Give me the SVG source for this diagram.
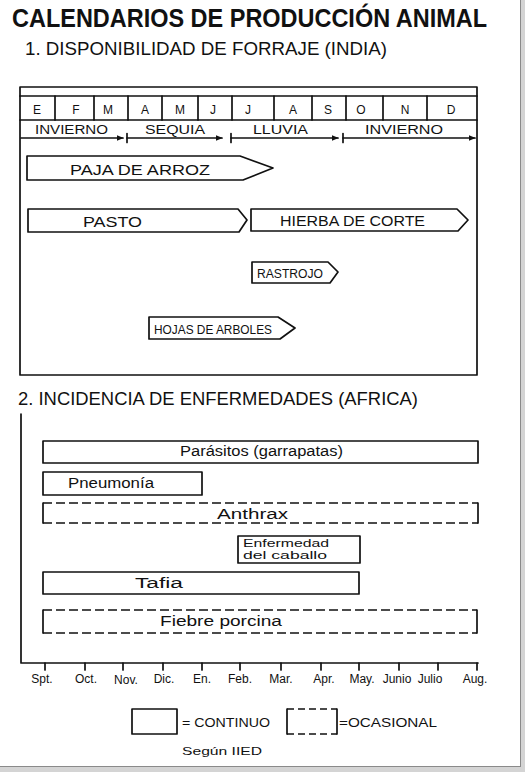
<svg xmlns="http://www.w3.org/2000/svg" width="525" height="772" viewBox="0 0 525 772">
<style>
  .ln { stroke:#111; stroke-width:1.7; fill:none; stroke-linejoin:round; stroke-linecap:round; }
  .bar { stroke:#111; stroke-width:1.7; fill:#fff; stroke-linejoin:round; }
  .dash { stroke:#111; stroke-width:1.7; fill:none; stroke-dasharray:9 4; }
  text { font-family:"Liberation Sans","DejaVu Sans",sans-serif; fill:#111; }
  .h1 { font-size:25px; font-weight:bold; }
  .h2 { font-size:18px; }
  .m { font-size:12px; text-anchor:middle; }
  .s { font-size:12px; }
  .f { font-size:14px; }
  .fs { font-size:12px; }
  .d { font-size:14px; }
  .ds { font-size:11px; }
  .dxs { font-size:10px; }
  .ax { font-size:12px; text-anchor:middle; }
</style>
<defs>
  <marker id="ah" viewBox="0 0 10 10" refX="9" refY="5" markerWidth="7" markerHeight="7" markerUnits="userSpaceOnUse" orient="auto">
    <path d="M0,1 L10,5 L0,9 Z" fill="#111"/>
  </marker>
</defs>
<rect x="0" y="0" width="525" height="772" fill="#fff"/>
<!-- page shadow -->
<g id="page-edge">
  <rect x="521" y="0" width="4" height="772" fill="#d4d4d4"/>
  <rect x="0" y="767" width="525" height="5" fill="#d4d4d4"/>
  <line x1="520.5" y1="0" x2="520.5" y2="767" stroke="#8a8a8a" stroke-width="1"/>
  <line x1="0" y1="766.5" x2="521" y2="766.5" stroke="#8a8a8a" stroke-width="1"/>
</g>

<g id="title">
  <text class="h1" x="12" y="27" textLength="475" lengthAdjust="spacingAndGlyphs">CALENDARIOS DE PRODUCCIÓN ANIMAL</text>
  <text class="h2" x="25" y="55" textLength="362" lengthAdjust="spacingAndGlyphs">1. DISPONIBILIDAD DE FORRAJE (INDIA)</text>
</g>

<!-- Section 1 -->
<g id="forage-frame">
  <rect class="ln" x="20" y="87" width="457" height="288"/>
  <line class="ln" x1="20" y1="96" x2="477" y2="96"/>
  <line class="ln" x1="20" y1="120" x2="477" y2="120"/>
</g>
<g id="months">
  <g class="ln">
    <line x1="55" y1="96" x2="55" y2="120"/>
    <line x1="94" y1="96" x2="94" y2="120"/>
    <line x1="128" y1="96" x2="128" y2="120"/>
    <line x1="162" y1="96" x2="162" y2="120"/>
    <line x1="198" y1="96" x2="198" y2="120"/>
    <line x1="232" y1="96" x2="232" y2="120"/>
    <line x1="274" y1="96" x2="274" y2="120"/>
    <line x1="312" y1="96" x2="312" y2="120"/>
    <line x1="346" y1="96" x2="346" y2="120"/>
    <line x1="383" y1="96" x2="383" y2="120"/>
    <line x1="427" y1="96" x2="427" y2="120"/>
  </g>
  <text class="m" x="37" y="114">E</text>
  <text class="m" x="76" y="114">F</text>
  <text class="m" x="108" y="114">M</text>
  <text class="m" x="145" y="114">A</text>
  <text class="m" x="180" y="114">M</text>
  <text class="m" x="213" y="114">J</text>
  <text class="m" x="248" y="114">J</text>
  <text class="m" x="293" y="114">A</text>
  <text class="m" x="328" y="114">S</text>
  <text class="m" x="361" y="114">O</text>
  <text class="m" x="405" y="114">N</text>
  <text class="m" x="451" y="114">D</text>
</g>
<g id="seasons">
  <text class="s" x="35" y="134" textLength="73" lengthAdjust="spacingAndGlyphs">INVIERNO</text>
  <text class="s" x="145" y="134" textLength="60" lengthAdjust="spacingAndGlyphs">SEQUIA</text>
  <text class="s" x="253" y="134" textLength="55" lengthAdjust="spacingAndGlyphs">LLUVIA</text>
  <text class="s" x="365" y="134" textLength="78" lengthAdjust="spacingAndGlyphs">INVIERNO</text>
</g>
<g id="connectors">
  <line class="ln" x1="21" y1="138" x2="123" y2="138" marker-end="url(#ah)"/>
  <line class="ln" x1="127" y1="133.5" x2="127" y2="142.5"/>
  <line class="ln" x1="127" y1="138" x2="222" y2="138" marker-end="url(#ah)"/>
  <line class="ln" x1="231" y1="133.5" x2="231" y2="142.5"/>
  <line class="ln" x1="231" y1="138" x2="338" y2="138" marker-end="url(#ah)"/>
  <line class="ln" x1="343" y1="133.5" x2="343" y2="142.5"/>
  <line class="ln" x1="343" y1="138" x2="475" y2="138" marker-end="url(#ah)"/>
</g>

<g id="paja-de-arroz">
  <polygon class="bar" points="27,156 240,156 273,168 243,180 27,180"/>
  <text class="f" x="70" y="175" textLength="140" lengthAdjust="spacingAndGlyphs">PAJA DE ARROZ</text>
</g>
<g id="pasto">
  <polygon class="bar" points="28,209 238,209 247,220 239,232 28,232"/>
  <text class="f" x="83" y="227" textLength="59" lengthAdjust="spacingAndGlyphs">PASTO</text>
</g>
<g id="hierba-de-corte">
  <polygon class="bar" points="251,209 457,209 468,220 458,231 251,231"/>
  <text class="f" x="280" y="226" textLength="145" lengthAdjust="spacingAndGlyphs">HIERBA DE CORTE</text>
</g>
<g id="rastrojo">
  <polygon class="bar" points="252,262 328,262 338,272 330,283 252,283"/>
  <text class="fs" x="257" y="278" textLength="66" lengthAdjust="spacingAndGlyphs">RASTROJO</text>
</g>
<g id="hojas-de-arboles">
  <polygon class="bar" points="149,317 278,317 295,328 280,339 149,339"/>
  <text class="fs" x="154" y="334" textLength="118" lengthAdjust="spacingAndGlyphs">HOJAS DE ARBOLES</text>
</g>

<!-- Section 2 -->
<g id="section2-title">
  <text class="h2" x="18" y="405" textLength="400" lengthAdjust="spacingAndGlyphs">2. INCIDENCIA DE ENFERMEDADES (AFRICA)</text>
</g>
<g id="disease-axis">
  <polyline class="ln" points="21,414 21,663 478,663"/>
  <g class="ln">
    <line x1="45" y1="663" x2="45" y2="670"/>
    <line x1="85" y1="663" x2="85" y2="670"/>
    <line x1="123" y1="663" x2="123" y2="670"/>
    <line x1="163" y1="663" x2="163" y2="670"/>
    <line x1="202" y1="663" x2="202" y2="670"/>
    <line x1="240" y1="663" x2="240" y2="670"/>
    <line x1="281" y1="663" x2="281" y2="670"/>
    <line x1="321" y1="663" x2="321" y2="670"/>
    <line x1="359" y1="663" x2="359" y2="670"/>
    <line x1="399" y1="663" x2="399" y2="670"/>
    <line x1="438" y1="663" x2="438" y2="670"/>
    <line x1="477" y1="663" x2="477" y2="670"/>
  </g>
  <text class="ax" x="42" y="683">Spt.</text>
  <text class="ax" x="86" y="683">Oct.</text>
  <text class="ax" x="126" y="684">Nov.</text>
  <text class="ax" x="164" y="683">Dic.</text>
  <text class="ax" x="202" y="683">En.</text>
  <text class="ax" x="240" y="683">Feb.</text>
  <text class="ax" x="281" y="683">Mar.</text>
  <text class="ax" x="324" y="683">Apr.</text>
  <text class="ax" x="362" y="683">May.</text>
  <text class="ax" x="397" y="683">Junio</text>
  <text class="ax" x="430" y="683">Julio</text>
  <text class="ax" x="475" y="683">Aug.</text>
</g>

<g id="parasitos">
  <rect class="bar" x="43" y="441" width="435" height="22"/>
  <text class="d" x="180" y="456" textLength="163" lengthAdjust="spacingAndGlyphs">Parásitos (garrapatas)</text>
</g>
<g id="pneumonia">
  <rect class="bar" x="43" y="472" width="159" height="23"/>
  <text class="d" x="68" y="488" textLength="86" lengthAdjust="spacingAndGlyphs">Pneumonía</text>
</g>
<g id="anthrax">
  <line class="ln" x1="43" y1="503" x2="43" y2="523"/>
  <line class="ln" x1="478" y1="503" x2="478" y2="523"/>
  <line class="dash" x1="43" y1="503" x2="478" y2="503"/>
  <line class="dash" x1="43" y1="523" x2="478" y2="523"/>
  <text class="d" x="217" y="519" textLength="71" lengthAdjust="spacingAndGlyphs">Anthrax</text>
</g>
<g id="enfermedad-del-caballo">
  <rect class="bar" x="238" y="536" width="122" height="27"/>
  <text class="dxs" x="243" y="547" textLength="86" lengthAdjust="spacingAndGlyphs">Enfermedad</text>
  <text class="dxs" x="243" y="559" textLength="84" lengthAdjust="spacingAndGlyphs">del caballo</text>
</g>
<g id="tafia">
  <rect class="bar" x="43" y="572" width="316" height="22"/>
  <text class="d" x="135" y="588" textLength="48" lengthAdjust="spacingAndGlyphs">Tafia</text>
</g>
<g id="fiebre-porcina">
  <line class="ln" x1="43" y1="610" x2="43" y2="633"/>
  <line class="ln" x1="477" y1="610" x2="477" y2="633"/>
  <line class="dash" x1="43" y1="610" x2="477" y2="610"/>
  <line class="dash" x1="43" y1="633" x2="477" y2="633"/>
  <text class="d" x="160" y="626" textLength="122" lengthAdjust="spacingAndGlyphs">Fiebre porcina</text>
</g>

<g id="legend">
  <rect class="bar" x="132" y="709" width="45" height="25"/>
  <text class="s" x="182" y="727" textLength="88" lengthAdjust="spacingAndGlyphs">= CONTINUO</text>
  <line class="ln" x1="287" y1="709" x2="287" y2="734"/>
  <line class="ln" x1="337" y1="709" x2="337" y2="734"/>
  <line class="dash" x1="287" y1="709" x2="337" y2="709" style="stroke-dasharray:7 4"/>
  <line class="dash" x1="287" y1="734" x2="337" y2="734" style="stroke-dasharray:7 4"/>
  <text class="s" x="339" y="727" textLength="98" lengthAdjust="spacingAndGlyphs">=OCASIONAL</text>
</g>
<g id="source">
  <text class="ds" x="182" y="755" textLength="80" lengthAdjust="spacingAndGlyphs">Según IIED</text>
</g>
</svg>
